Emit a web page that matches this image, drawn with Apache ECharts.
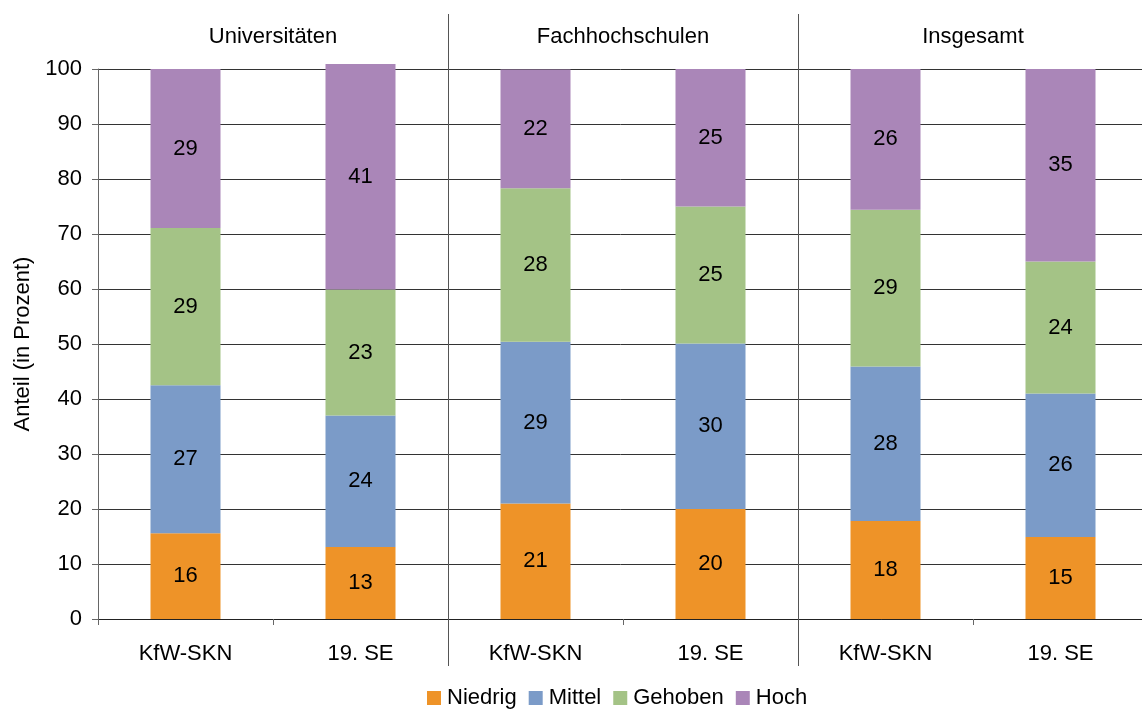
<!DOCTYPE html>
<html>
<head>
<meta charset="utf-8">
<script src="https://cdn.jsdelivr.net/npm/echarts@6/dist/echarts.min.js"></script>
<style>
  html, body { margin: 0; padding: 0; background: #fff; }
  #main { width: 1142px; height: 709px; }
</style>
</head>
<body>
<div id="main"></div>
<script>
// Kategorien und Gruppen
var categories = ['KfW-SKN', '19. SE', 'KfW-SKN', '19. SE', 'KfW-SKN', '19. SE'];
var groups = ['Universitäten', 'Fachhochschulen', 'Insgesamt'];
// Anteile in Prozent
var niedrig = [15.6, 13.1, 21.0, 20.0, 17.8, 14.9];
var mittel  = [26.9, 23.9, 29.4, 30.1, 28.1, 26.1];
var gehoben = [28.6, 22.9, 27.9, 24.9, 28.5, 24.0];
var hoch    = [28.9, 41.0, 21.6, 25.0, 25.6, 35.0];
var seriesNames = ['Niedrig', 'Mittel', 'Gehoben', 'Hoch'];
var colors = ['#EE9328', '#7B9BC8', '#A4C386', '#AA86B8'];

var font = 'Liberation Sans, Arial, sans-serif';
var fs = 22;

function makeSeries(name, data) {
  return {
    name: name,
    type: 'bar',
    stack: 'total',
    data: data,
    barWidth: 70,
    clip: false,
    label: {
      show: true,
      position: 'inside',
      color: '#000',
      fontSize: fs,
      fontFamily: font,
      formatter: function (p) { return Math.round(p.value); }
    }
  };
}

var myChart = echarts.init(document.getElementById('main'));
var option = {
  color: colors,
  animation: false,
  textStyle: { fontFamily: font },
  grid: { left: 98, right: -6, top: 69, bottom: 90, outerBoundsMode: 'none', containLabel: false },
  legend: {
    bottom: -5,
    left: 422,
    itemWidth: 14,
    itemHeight: 14,
    itemGap: 12,
    icon: 'rect',
    textStyle: { color: '#000', fontSize: fs, fontFamily: font, padding: [0, 0, 0, 1] },
    data: seriesNames
  },
  xAxis: [
    {
      type: 'category',
      data: categories,
      axisLine: { lineStyle: { color: '#222', width: 1 } },
      axisTick: { show: true, length: 6, lineStyle: { color: '#666' } },
      axisLabel: { color: '#000', fontSize: fs, fontFamily: font, margin: 24 }
    },
    {
      type: 'category',
      position: 'top',
      data: groups,
      axisLine: { show: false },
      axisTick: { show: false },
      axisLabel: { color: '#000', fontSize: fs, fontFamily: font, margin: 21 }
    }
  ],
  yAxis: {
    type: 'value',
    min: 0,
    max: 100,
    interval: 10,
    name: 'Anteil (in Prozent)',
    nameLocation: 'middle',
    nameRotate: 90,
    nameGap: 64,
    nameTextStyle: { color: '#000', fontSize: fs, fontFamily: font },
    axisLine: { show: true, lineStyle: { color: '#666' } },
    axisTick: { show: true, length: 6, lineStyle: { color: '#666' } },
    axisLabel: { color: '#000', fontSize: fs, fontFamily: font, margin: 16 },
    splitLine: { lineStyle: { color: '#333', width: 1 } }
  },
  series: [
    makeSeries(seriesNames[0], niedrig),
    makeSeries(seriesNames[1], mittel),
    makeSeries(seriesNames[2], gehoben),
    makeSeries(seriesNames[3], hoch)
  ]
};
myChart.setOption(option);

// Trennlinien zwischen den Gruppen
var lines = [];
[2, 4].forEach(function (i) {
  var a = myChart.convertToPixel({ xAxisIndex: 0 }, i - 1);
  var b = myChart.convertToPixel({ xAxisIndex: 0 }, i);
  var x = Math.round((a + b) / 2) + 0.5;
  lines.push({
    type: 'line',
    shape: { x1: x, y1: 14, x2: x, y2: 666 },
    style: { stroke: '#555', lineWidth: 1 },
    z: 10
  });
});
myChart.setOption({ graphic: lines });
</script>
</body>
</html>
